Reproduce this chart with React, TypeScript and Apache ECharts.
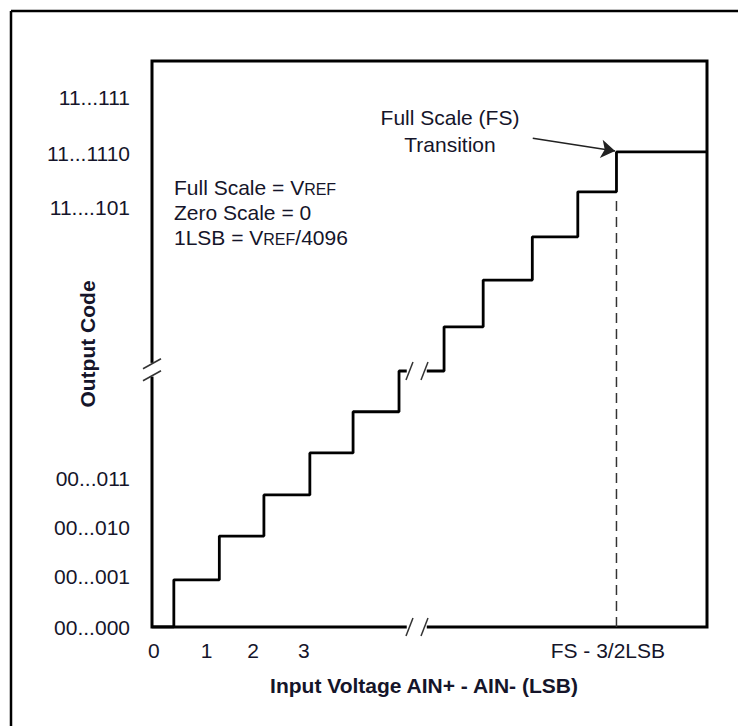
import React, { useEffect, useRef } from "react";
import * as echarts from "echarts";

const FONT = "'Liberation Sans', Arial, Helvetica, sans-serif";
const TEXT_COLOR = "#15152a";
const FS = 21;

// x: input voltage in (drawn) LSB units, y: output code in (drawn) code units
const leftTransitions = [0.48, 1.48, 2.46, 3.47, 4.42, 5.43];
const leftLevels = [0, 1.1, 2.12, 3.08, 4.06, 5.02, 5.97];
const rightTransitions = [6.42, 7.28, 8.36, 9.36, 10.21];
const rightLevels = [5.97, 7.0, 8.09, 9.1, 10.15, 11.08];
const xMin = 0;
const xMax = 12.2;
const yMin = 0;
const yMax = 13.2;

const breakGapX = [5.6, 6.04];
const breakSlashX = [5.66, 5.99];
const breakGapY = [5.84, 6.16];
const breakSlashY = [5.86, 6.14];

const fsTransitionX = 10.21;
const fsDashTop = 10.05;
const arrowFrom = [8.37, 11.4];
const arrowTo = [10.18, 11.1];

const xTickValues = [0.04, 1.2, 2.22, 3.34, 10.02];
const xTickLabels = ["0", "1", "2", "3", "FS - 3/2LSB"];
const yTickValues = [0, 1.17, 2.31, 3.47, 9.79, 11.05, 12.34];
const yTickLabels = ["00...000", "00...001", "00...010", "00...011", "11....101", "11...1110", "11...111"];

const xTitle = "Input Voltage AIN+ - AIN- (LSB)";
const yTitle = "Output Code";
const notes = "Full Scale = V{s|REF}\nZero Scale = 0\n1LSB = V{s|REF}/4096";
const fsNote = "Full Scale (FS)\nTransition";

function buildSteps(start: number, end: number, transitions: number[], levels: number[]) {
  const pts: number[][] = [[start, levels[0]]];
  transitions.forEach((t, i) => {
    pts.push([t, levels[i]]);
    pts.push([t, levels[i + 1]]);
  });
  pts.push([end, levels[levels.length - 1]]);
  return pts;
}

function labelFor(values: number[], labels: string[]) {
  return (v: number) => {
    const i = values.findIndex((t) => Math.abs(t - v) < 1e-6);
    return i >= 0 ? labels[i] : "";
  };
}

export default function App() {
  const ref = useRef<HTMLDivElement>(null);
  useEffect(() => {
    if (!ref.current) return;
    const chart = echarts.init(ref.current, undefined, { renderer: "svg" });

    const leftData = buildSteps(xMin, breakGapX[0], leftTransitions, leftLevels);
    const rightData = buildSteps(breakGapX[1], xMax, rightTransitions, rightLevels);
    const levelAtBreak = leftLevels[leftLevels.length - 1];

    const slashData: number[][] = [];
    breakSlashX.forEach((x) => {
      slashData.push([x, yMin, 0]);
      slashData.push([x, levelAtBreak, 0]);
    });
    breakSlashY.forEach((y) => slashData.push([xMin, y, 1]));

    const gapData = [
      [breakGapX[0], yMin, breakGapX[1], yMin, 0],
      [xMin, breakGapY[0], xMin, breakGapY[1], 1],
    ];

    chart.setOption({
      animation: false,
      backgroundColor: "#fff",
      grid: {
        left: 152,
        top: 61,
        right: 31,
        bottom: 99,
        show: true,
        borderColor: "#000",
        borderWidth: 3,
        backgroundColor: "transparent",
      },
      xAxis: {
        type: "value",
        min: xMin,
        max: xMax,
        axisLine: { show: false },
        axisTick: { show: false },
        splitLine: { show: false },
        axisLabel: {
          customValues: xTickValues,
          formatter: labelFor(xTickValues, xTickLabels),
          fontFamily: FONT,
          fontSize: FS,
          color: TEXT_COLOR,
          margin: 13,
        },
        name: xTitle,
        nameLocation: "middle",
        nameGap: 48,
        nameMoveOverlap: false,
        nameTextStyle: {
          fontFamily: FONT,
          fontSize: FS,
          fontWeight: "bold",
          color: TEXT_COLOR,
          padding: [0, 11, 0, 0],
        },
      },
      yAxis: {
        type: "value",
        min: yMin,
        max: yMax,
        axisLine: { show: false },
        axisTick: { show: false },
        splitLine: { show: false },
        axisLabel: {
          customValues: yTickValues,
          formatter: labelFor(yTickValues, yTickLabels),
          fontFamily: FONT,
          fontSize: FS,
          color: TEXT_COLOR,
          margin: 22,
        },
        name: yTitle,
        nameLocation: "middle",
        nameGap: 54,
        nameMoveOverlap: false,
        nameTextStyle: {
          fontFamily: FONT,
          fontSize: FS,
          fontWeight: "bold",
          color: TEXT_COLOR,
        },
      },
      graphic: [
        { type: "line", shape: { x1: 11, y1: 11, x2: 760, y2: 11 }, style: { stroke: "#000", lineWidth: 2.5 } },
        { type: "line", shape: { x1: 11, y1: 11, x2: 11, y2: 760 }, style: { stroke: "#000", lineWidth: 2.5 } },
        {
          type: "text",
          left: 174,
          top: 175,
          style: {
            text: notes,
            fontFamily: FONT,
            fontSize: FS,
            lineHeight: 25,
            fill: TEXT_COLOR,
            rich: {
              s: { fontFamily: FONT, fontSize: 16, fill: TEXT_COLOR, padding: [3, 0, 0, 0] },
            },
          },
        },
        {
          type: "text",
          x: 450,
          y: 104,
          style: {
            text: fsNote,
            fontFamily: FONT,
            fontSize: FS,
            lineHeight: 27,
            fill: TEXT_COLOR,
            align: "center",
            verticalAlign: "top",
          },
        },
      ],
      series: [
        {
          type: "custom",
          coordinateSystem: "cartesian2d",
          clip: false,
          z: 5,
          silent: true,
          encode: { x: [0, 2], y: [1, 3] },
          data: gapData,
          renderItem: (params: any, api: any) => {
            const a = api.coord([api.value(0), api.value(1)]);
            const b = api.coord([api.value(2), api.value(3)]);
            const kind = api.value(4);
            if (kind === 0) {
              return {
                type: "rect",
                shape: { x: a[0], y: a[1] - 5, width: b[0] - a[0], height: 10 },
                style: { fill: "#fff" },
              };
            }
            return {
              type: "rect",
              shape: { x: a[0] - 5, y: b[1], width: 10, height: a[1] - b[1] },
              style: { fill: "#fff" },
            };
          },
        },
        {
          type: "line",
          data: leftData,
          symbol: "none",
          z: 6,
          lineStyle: { color: "#000", width: 2.8 },
        },
        {
          type: "line",
          data: rightData,
          symbol: "none",
          z: 6,
          clip: false,
          lineStyle: { color: "#000", width: 2.8 },
          markLine: {
            silent: true,
            symbol: ["none", "arrow"],
            symbolSize: 14,
            label: { show: false },
            lineStyle: { color: "#222", width: 1.6, type: "solid" },
            data: [[{ coord: arrowFrom }, { coord: arrowTo }]],
          },
        },
        {
          type: "line",
          data: [
            [fsTransitionX, yMin],
            [fsTransitionX, fsDashTop],
          ],
          symbol: "none",
          z: 4,
          lineStyle: { color: "#333", width: 1.5, type: [10, 6] },
        },
        {
          type: "custom",
          coordinateSystem: "cartesian2d",
          clip: false,
          z: 7,
          silent: true,
          data: slashData,
          renderItem: (params: any, api: any) => {
            const p = api.coord([api.value(0), api.value(1)]);
            const kind = api.value(2);
            const shape =
              kind === 0
                ? { x1: p[0] - 3.5, y1: p[1] + 9, x2: p[0] + 3.5, y2: p[1] - 9 }
                : { x1: p[0] - 9, y1: p[1] + 5, x2: p[0] + 9, y2: p[1] - 5 };
            return { type: "line", shape, style: { stroke: "#333", lineWidth: 1.5 } };
          },
        },
      ],
    });
    return () => chart.dispose();
  }, []);

  return (
    <div
      ref={ref}
      style={{ position: "fixed", left: 0, top: 0, width: 738, height: 726, background: "#fff" }}
    />
  );
}
